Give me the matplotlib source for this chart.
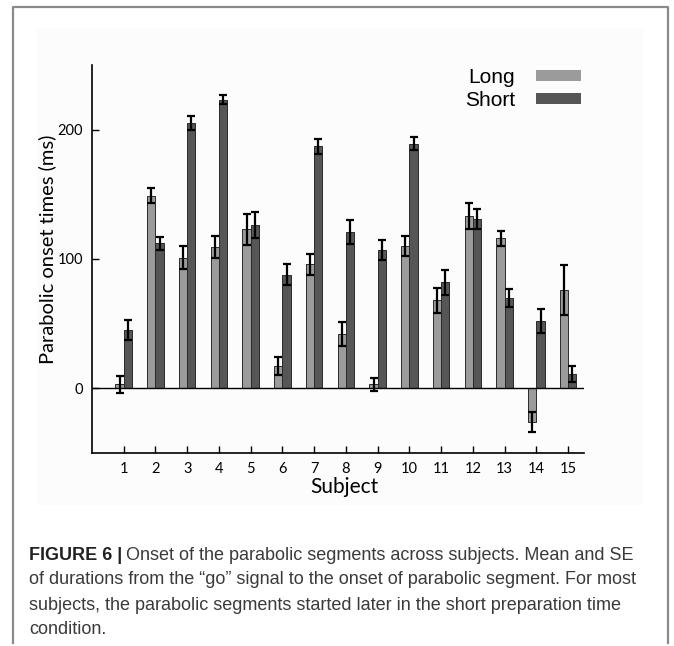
import matplotlib
matplotlib.use("Agg")
import matplotlib.pyplot as plt
import numpy as np
from matplotlib.lines import Line2D
from matplotlib.patches import Patch, Rectangle

subjects = list(range(1, 16))
long_mean = [3, 149, 101, 109, 123, 17, 96, 42, 3, 110, 68, 133, 116, -26, 76]
long_se = [6.5, 6, 9, 8.5, 12, 7, 8, 9, 5, 8, 9.5, 10, 6, 8, 19]
short_mean = [45, 112, 205, 223, 126, 88, 187, 121, 107, 189, 82, 131, 70, 52, 11]
short_se = [8, 5, 5.5, 3.5, 10, 8, 6, 9.5, 7.5, 5, 9.5, 8, 7, 9.5, 6]
y_ticks = [0, 100, 200]

W, H = 674, 646
fig = plt.figure(figsize=(W / 100, H / 100), dpi=100)
fig.patch.set_facecolor("white")

# faint panel behind the chart
fig.patches.append(Rectangle((37 / W, 1 - 505 / H), (643 - 37) / W, (505 - 28) / H,
                             transform=fig.transFigure, facecolor="#fcfcfc",
                             edgecolor="none", zorder=-5))

# grey frame (open at the bottom)
fx = [12.7 / W, 12.7 / W, 668 / W, 668 / W]
fy = [1 - 643 / H, 1 - 6.7 / H, 1 - 6.7 / H, 1 - 643 / H]
fig.lines.append(Line2D(fx, fy, transform=fig.transFigure, color="#8a8a8a",
                        lw=1.6, zorder=-4))

ax = fig.add_axes([92 / W, 1 - 453 / H, 492 / W, 388 / H])
ax.set_facecolor("none")
ax.set_zorder(2)

x = np.array(subjects)
bw = 0.26
col_long = "#9b9b9b"
col_short = "#565656"
ekw = dict(ecolor="black", elinewidth=1.6, capsize=3.2, capthick=1.6)

ax.bar(x - bw / 2, long_mean, bw, color=col_long, edgecolor="#2a2a2a",
       linewidth=0.7, yerr=long_se, error_kw=ekw, zorder=2)
ax.bar(x + bw / 2, short_mean, bw, color=col_short, edgecolor="#2a2a2a",
       linewidth=0.7, yerr=short_se, error_kw=ekw, zorder=2)
ax.axhline(0, color="black", lw=1.0, zorder=3)

ax.set_xlim(0, 15.5)
ax.set_ylim(-50, 250)
ax.set_xticks(subjects)
ax.set_yticks(y_ticks)
for s in ("top", "right"):
    ax.spines[s].set_visible(False)
for s in ("left", "bottom"):
    ax.spines[s].set_linewidth(1.2)
ax.tick_params(direction="in", length=5, width=1.0, labelsize=10.5, pad=6.5)
for lab in ax.get_xticklabels() + ax.get_yticklabels():
    lab.set_family("Lato")

ax.set_ylabel("Parabolic onset times (ms)", family="Lato", fontsize=14.5)
ax.yaxis.set_label_coords(-0.072, 0.525)
ax.set_xlabel("Subject", family="Lato", fontsize=15)
ax.xaxis.set_label_coords(0.512, -0.062)

handles = [Patch(facecolor=col_long, edgecolor="none"),
           Patch(facecolor=col_short, edgecolor="none")]
ax.legend(handles, ["Long", "Short"], loc="upper right",
          bbox_to_anchor=(1.016, 1.02), frameon=False, markerfirst=False,
          prop={"family": "Liberation Sans", "size": 15}, handlelength=2.2,
          handleheight=0.45, handletextpad=1.0, labelspacing=0.2, borderpad=0)

# caption
renderer = fig.canvas.get_renderer()
cap_x = 29 / W
cap_size = 13
bold = fig.text(cap_x, 1 - 555 / H, "FIGURE 6 |", family="Liberation Sans",
                weight="bold", fontsize=cap_size, color="#222222", va="center")
bb = bold.get_window_extent(renderer)
fig.text(bb.x1 / W + 0.006, 1 - 555 / H,
         "Onset of the parabolic segments across subjects. Mean and SE",
         family="Liberation Sans", fontsize=cap_size, color="#3a3a3a", va="center")
rest = [
    "of durations from the \u201cgo\u201d signal to the onset of parabolic segment. For most",
    "subjects, the parabolic segments started later in the short preparation time",
    "condition.",
]
for i, line in enumerate(rest):
    fig.text(cap_x, 1 - (580 + 25 * i) / H, line, family="Liberation Sans",
             fontsize=cap_size, color="#3a3a3a", va="center")

fig.savefig("out.png", dpi=100)
